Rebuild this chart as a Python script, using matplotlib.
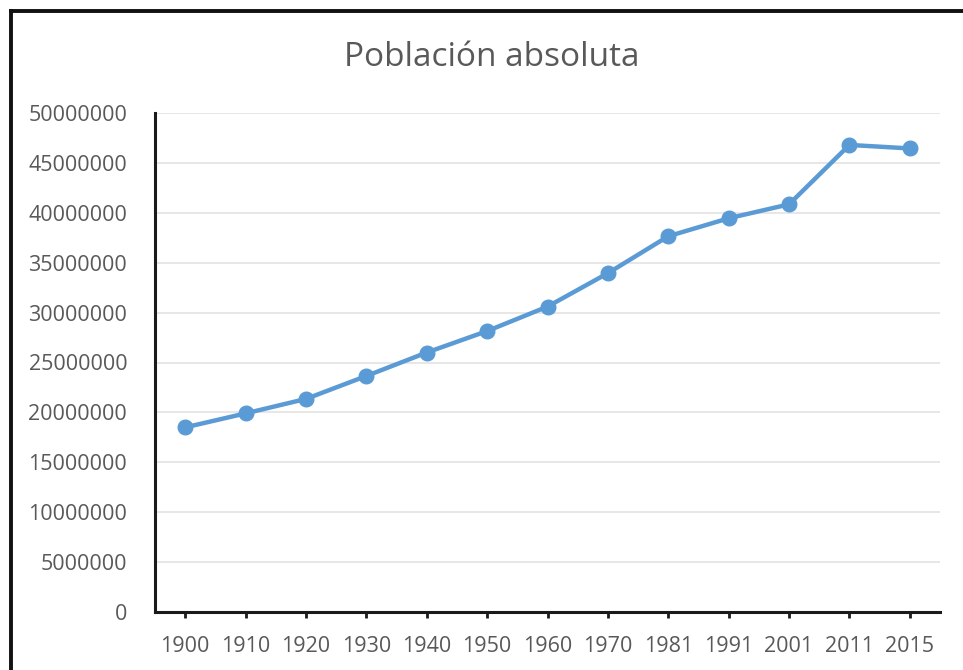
import matplotlib.pyplot as plt
from matplotlib.lines import Line2D

# Población absoluta
years = ["1900", "1910", "1920", "1930", "1940", "1950", "1960",
         "1970", "1981", "1991", "2001", "2011", "2015"]
population = [18.5e6, 19.9e6, 21.35e6, 23.65e6, 26.0e6, 28.15e6, 30.6e6,
              33.95e6, 37.65e6, 39.45e6, 40.85e6, 46.8e6, 46.45e6]
yticks = list(range(0, 50000001, 5000000))

plt.rcParams["font.family"] = ["Open Sans", "DejaVu Sans"]
gray = "#595959"

fig = plt.figure(figsize=(9.63, 6.70), dpi=100)
ax = fig.add_axes([155 / 963, 1 - 612 / 670, 785 / 963, 499 / 670])

x = list(range(len(years)))
ax.plot(x, population, color="#5B9BD5", lw=3.2, marker="o", markersize=10.5,
        solid_capstyle="round", zorder=3)

ax.set_xlim(-0.5, len(years) - 0.5)
ax.set_ylim(0, 50000000)
ax.set_yticks(yticks)
ax.set_yticklabels([str(v) for v in yticks])
ax.set_xticks(x)
ax.set_xticklabels(years)
ax.grid(axis="y", color="#e3e3e3", lw=1.2)
ax.set_axisbelow(True)

for side in ["top", "right"]:
    ax.spines[side].set_visible(False)
for side in ["left", "bottom"]:
    ax.spines[side].set_color("#1a1a1a")
    ax.spines[side].set_linewidth(2.2)

ax.tick_params(axis="y", length=0, pad=20, labelsize=15.5, labelcolor=gray)
ax.tick_params(axis="x", length=4, width=2, color="#1a1a1a", direction="out",
               pad=13, labelsize=15.5, labelcolor=gray)

fig.text(492 / 963, 1 - 58 / 670, "Población absoluta", ha="center", va="center",
         fontsize=24, color=gray)

# frame of the chart area (only left and top edges show in the crop)
fig.add_artist(Line2D([11 / 963, 11 / 963], [0, 1 - 11 / 670], color="#111111",
                      lw=2.8, transform=fig.transFigure))
fig.add_artist(Line2D([11 / 963, 1], [1 - 11 / 670, 1 - 11 / 670], color="#111111",
                      lw=2.8, transform=fig.transFigure))

fig.savefig("out.png", dpi=100)
